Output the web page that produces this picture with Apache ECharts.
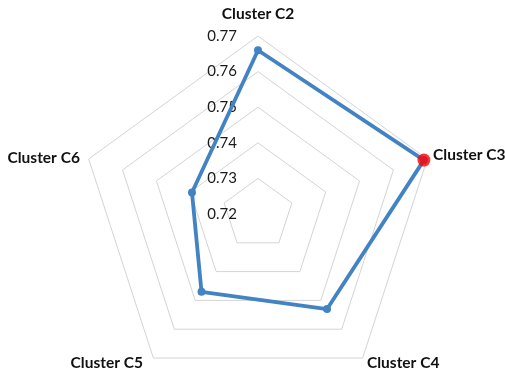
<!DOCTYPE html>
<html>
<head>
<meta charset="utf-8">
<script src="https://cdn.jsdelivr.net/npm/echarts@6/dist/echarts.min.js"></script>
<style>
  html, body { margin: 0; padding: 0; background: #ffffff; }
  #chart { width: 505px; height: 375px; }
</style>
</head>
<body>
<div id="chart"></div>
<script>
// Cluster scores, listed clockwise from the top spoke
const categories = ['Cluster C2', 'Cluster C3', 'Cluster C4', 'Cluster C5', 'Cluster C6'];
const values = [0.766, 0.769, 0.753, 0.747, 0.7395];
const highlightedCluster = 'Cluster C3';
const tickLabels = ['0.72', '0.73', '0.74', '0.75', '0.76', '0.77'];

const axisMin = Number(tickLabels[0]);
const axisMax = Number(tickLabels[tickLabels.length - 1]);
const axisStep = Number(tickLabels[1]) - axisMin;

// ECharts lays radar spokes out counter-clockwise, so keep the first
// spoke on top and reverse the rest to read clockwise.
const order = [0].concat(categories.map((_, i) => i).slice(1).reverse());

// Name placement style for each spoke, by position around the chart
const namePlacement = ['top', 'right', 'lowRight', 'lowLeft', 'left'];
const nameStyleOf = {};
categories.forEach((c, i) => { nameStyleOf[c] = namePlacement[i]; });

const CENTER = [258, 214];
const RADIUS = 178;
const LINE_BLUE = '#4283c4';
const nameFont = { fontFamily: 'Lato', fontSize: 15.5, fontWeight: 'bold', color: '#111111' };

const chart = echarts.init(document.getElementById('chart'), null, { renderer: 'canvas' });

chart.setOption({
  backgroundColor: '#ffffff',
  animation: false,
  radar: {
    center: CENTER,
    radius: RADIUS,
    startAngle: 90,
    shape: 'polygon',
    splitNumber: tickLabels.length - 1,
    nameGap: 4,
    indicator: order.map(i => ({ name: categories[i], min: axisMin, max: axisMax })),
    axisLine: { show: false },
    axisTick: { show: false },
    axisLabel: { show: false },
    splitArea: { show: false },
    splitLine: { lineStyle: { color: '#d4d4d4', width: 1 } },
    axisName: Object.assign({}, nameFont, {
      formatter: name => '{' + nameStyleOf[name] + '|' + name + '}',
      rich: {
        top: Object.assign({}, nameFont, { padding: [0, 0, 10, 0] }),
        right: Object.assign({}, nameFont, { padding: [0, 0, 6, 2] }),
        lowRight: Object.assign({}, nameFont, { padding: [4, 0, 0, 2] }),
        lowLeft: Object.assign({}, nameFont, { padding: [4, 8, 0, 0] }),
        left: Object.assign({}, nameFont, { padding: [0, 5, 0, 0] })
      }
    })
  },
  // A polar system sharing the radar's centre and scale carries the value
  // labels on the top spoke and the highlighted marker.
  polar: { center: CENTER, radius: RADIUS },
  angleAxis: {
    type: 'category',
    data: categories,
    startAngle: 90,
    clockwise: true,
    boundaryGap: false,
    show: false
  },
  radiusAxis: {
    type: 'value',
    min: axisMin,
    max: axisMax,
    interval: axisStep,
    axisLine: { show: false },
    axisTick: { show: false },
    splitLine: { show: false },
    axisLabel: {
      margin: 21,
      fontFamily: 'Lato',
      fontSize: 15,
      color: '#1a1a1a',
      formatter: v => v.toFixed(2)
    }
  },
  series: [
    {
      type: 'radar',
      symbol: 'circle',
      symbolSize: 8,
      lineStyle: { color: LINE_BLUE, width: 3.8 },
      itemStyle: { color: LINE_BLUE },
      data: [{ value: order.map(i => values[i]) }]
    },
    {
      type: 'scatter',
      coordinateSystem: 'polar',
      symbol: 'circle',
      symbolSize: 13,
      itemStyle: { color: '#ff0000' },
      z: 5,
      data: [[values[categories.indexOf(highlightedCluster)], categories.indexOf(highlightedCluster)]]
    }
  ]
});
</script>
</body>
</html>
